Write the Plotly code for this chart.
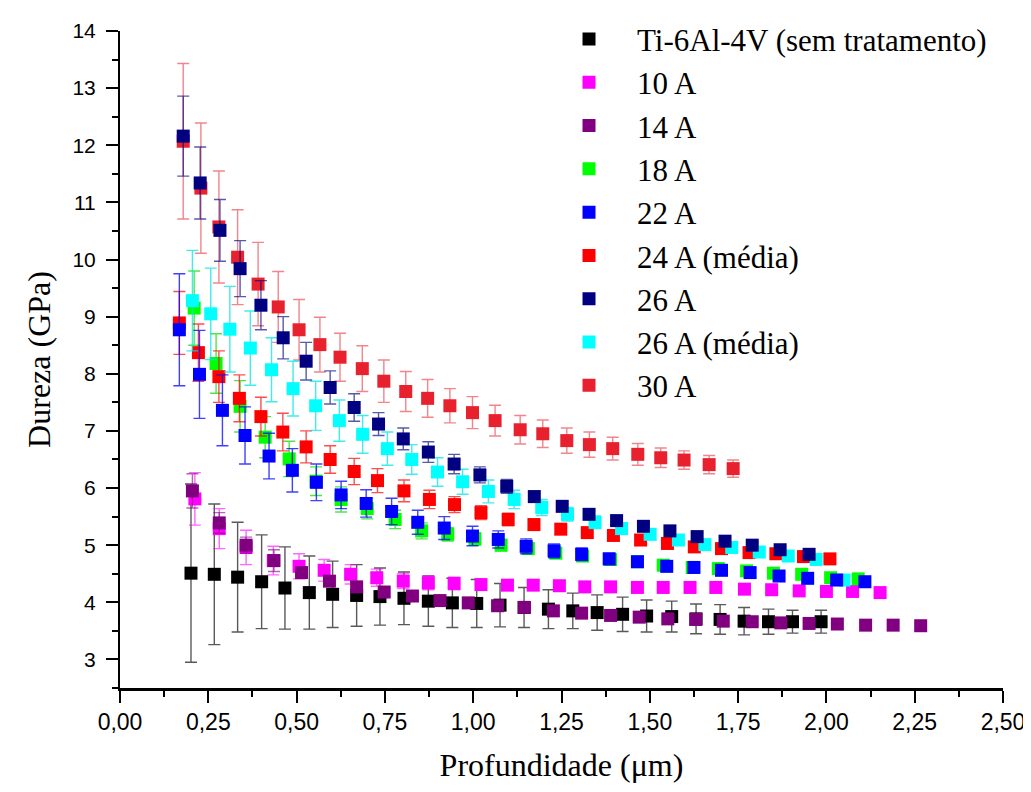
import plotly.graph_objects as go

# ---- data ----
ti_x = [0.201,0.267,0.333,0.401,0.467,0.536,0.602,0.670,0.736,0.804,0.873,0.941,1.010,1.076,1.144,1.213,1.282,1.351,1.423,1.491,1.562,1.631,1.699,1.767,1.836,1.904,1.985]
ti_y = [4.51,4.49,4.44,4.36,4.25,4.17,4.14,4.12,4.10,4.07,4.02,3.99,3.98,3.95,3.91,3.88,3.85,3.82,3.79,3.76,3.75,3.71,3.70,3.67,3.66,3.66,3.66]
ti_e = [1.56,1.23,0.96,0.82,0.72,0.64,0.58,0.54,0.50,0.46,0.44,0.43,0.42,0.38,0.35,0.34,0.31,0.31,0.30,0.28,0.27,0.26,0.26,0.24,0.22,0.20,0.20]

a10_x = [0.212,0.281,0.357,0.434,0.507,0.578,0.653,0.727,0.802,0.873,0.946,1.022,1.097,1.170,1.244,1.316,1.389,1.465,1.538,1.614,1.687,1.768,1.845,1.923,2.000,2.074,2.152]
a10_y = [5.81,5.29,4.96,4.73,4.63,4.56,4.49,4.43,4.37,4.34,4.33,4.31,4.30,4.30,4.29,4.27,4.27,4.26,4.26,4.26,4.26,4.23,4.22,4.20,4.19,4.19,4.17]
a10_e = [0.46,0.35,0.30,0.25,0.22,0.19,0.17,0.15,0.13,0.12,0.11,0.10,0.09,0.08,0.08,0.07,0.07,0.06,0.06,0.06,0.05,0.05,0.05,0.05,0.04,0.04,0.04]

a14_x = [0.205,0.281,0.357,0.436,0.514,0.593,0.670,0.748,0.828,0.906,0.986,1.069,1.145,1.227,1.307,1.389,1.470,1.551,1.630,1.708,1.790,1.871,1.951,2.031,2.111,2.189,2.267]
a14_y = [5.95,5.39,5.00,4.73,4.52,4.37,4.27,4.18,4.11,4.03,3.99,3.94,3.91,3.85,3.81,3.77,3.74,3.71,3.70,3.67,3.66,3.64,3.63,3.62,3.60,3.60,3.59]
a14_e = [0.30,0.18,0.14,0.19,0.10,0.09,0.08,0.07,0.06,0.06,0.05,0.05,0.05,0.05,0.04,0.04,0.04,0.04,0.04,0.04,0.04,0.04,0.04,0.04,0.04,0.04,0.04]

a18_x = [0.210,0.272,0.340,0.411,0.479,0.555,0.626,0.700,0.779,0.854,0.928,1.005,1.079,1.156,1.234,1.310,1.389,1.465,1.538,1.620,1.694,1.774,1.850,1.930,2.012,2.090]
a18_y = [9.15,8.18,7.43,6.89,6.51,6.12,5.80,5.64,5.45,5.25,5.19,5.11,5.00,4.94,4.86,4.81,4.75,4.71,4.65,4.61,4.59,4.55,4.51,4.49,4.43,4.41]
a18_e = [0.65,0.52,0.45,0.36,0.31,0.25,0.22,0.18,0.16,0.14,0.12,0.11,0.10,0.09,0.08,0.08,0.07,0.07,0.06,0.06,0.06,0.05,0.05,0.05,0.05,0.05]

a22_x = [0.168,0.225,0.290,0.354,0.422,0.488,0.556,0.626,0.697,0.769,0.843,0.918,0.998,1.071,1.150,1.229,1.307,1.385,1.465,1.548,1.625,1.703,1.784,1.866,1.947,2.029,2.109]
a22_y = [8.77,7.99,7.36,6.92,6.56,6.31,6.10,5.88,5.73,5.59,5.40,5.30,5.16,5.10,4.98,4.90,4.84,4.76,4.71,4.63,4.61,4.56,4.52,4.46,4.42,4.39,4.36]
a22_e = [0.98,0.77,0.62,0.50,0.40,0.38,0.32,0.24,0.24,0.23,0.21,0.20,0.17,0.15,0.13,0.12,0.11,0.10,0.09,0.09,0.08,0.08,0.07,0.07,0.06,0.06,0.06]

a24_x = [0.168,0.222,0.280,0.338,0.399,0.461,0.527,0.595,0.663,0.729,0.804,0.876,0.947,1.022,1.099,1.172,1.248,1.323,1.397,1.474,1.550,1.626,1.703,1.781,1.857,1.935,2.010]
a24_y = [8.89,8.37,7.95,7.57,7.25,6.98,6.72,6.50,6.29,6.13,5.95,5.80,5.71,5.57,5.45,5.36,5.28,5.22,5.17,5.09,5.03,4.97,4.94,4.87,4.85,4.80,4.76]
a24_e = [0.55,0.50,0.45,0.41,0.34,0.33,0.28,0.24,0.23,0.21,0.19,0.16,0.14,0.12,0.11,0.10,0.09,0.08,0.08,0.07,0.07,0.06,0.06,0.06,0.05,0.05,0.05]

a26_x = [0.179,0.227,0.283,0.340,0.399,0.462,0.527,0.595,0.663,0.732,0.802,0.873,0.946,1.019,1.095,1.173,1.252,1.328,1.406,1.482,1.557,1.634,1.713,1.790,1.869,1.951]
a26_y = [12.16,11.34,10.51,9.84,9.20,8.63,8.22,7.76,7.41,7.12,6.86,6.63,6.42,6.23,6.03,5.85,5.68,5.54,5.43,5.33,5.25,5.15,5.07,5.00,4.92,4.84]
a26_e = [0.70,0.63,0.54,0.49,0.43,0.37,0.33,0.29,0.24,0.20,0.19,0.18,0.17,0.14,0.12,0.10,0.09,0.08,0.07,0.07,0.06,0.06,0.05,0.05,0.05,0.05]

a26m_x = [0.205,0.257,0.311,0.369,0.429,0.490,0.554,0.621,0.687,0.757,0.826,0.899,0.970,1.043,1.116,1.194,1.267,1.345,1.420,1.501,1.581,1.656,1.732,1.810,1.892,1.971,2.050]
a26m_y = [9.28,9.05,8.78,8.45,8.07,7.74,7.44,7.18,6.94,6.69,6.50,6.28,6.11,5.94,5.80,5.66,5.54,5.40,5.29,5.19,5.09,5.01,4.96,4.88,4.81,4.75,4.39]
a26m_e = [0.88,0.80,0.75,0.65,0.56,0.48,0.43,0.36,0.33,0.29,0.26,0.25,0.22,0.20,0.16,0.14,0.12,0.11,0.10,0.09,0.08,0.07,0.07,0.06,0.06,0.05,0.05]

a30_x = [0.179,0.229,0.280,0.333,0.391,0.448,0.507,0.566,0.623,0.686,0.747,0.809,0.871,0.934,0.998,1.062,1.133,1.197,1.265,1.329,1.395,1.466,1.531,1.597,1.668,1.736]
a30_y = [12.07,11.25,10.57,10.04,9.57,9.17,8.77,8.51,8.29,8.09,7.87,7.69,7.57,7.44,7.32,7.18,7.02,6.95,6.83,6.76,6.69,6.59,6.53,6.49,6.41,6.34]
a30_e = [1.36,1.14,0.98,0.83,0.73,0.62,0.53,0.48,0.42,0.40,0.37,0.35,0.33,0.30,0.28,0.27,0.25,0.24,0.22,0.22,0.20,0.19,0.17,0.16,0.16,0.15]

x_ticks = [0, 0.25, 0.5, 0.75, 1.0, 1.25, 1.5, 1.75, 2.0, 2.25, 2.5]
x_labels = ["0,00", "0,25", "0,50", "0,75", "1,00", "1,25", "1,50", "1,75", "2,00", "2,25", "2,50"]
y_ticks = [3, 4, 5, 6, 7, 8, 9, 10, 11, 12, 13, 14]

# (name, x, y, err, color, error colour, legend rank) in drawing order
series = [
    ("Ti-6Al-4V (sem tratamento)", ti_x, ti_y, ti_e, "#000000", "rgba(0,0,0,0.65)", 1),
    ("10 A", a10_x, a10_y, a10_e, "#FF00FF", "rgba(255,0,255,0.6)", 2),
    ("14 A", a14_x, a14_y, a14_e, "#800080", "rgba(128,0,128,0.6)", 3),
    ("18 A", a18_x, a18_y, a18_e, "#00FF00", "rgba(0,220,0,0.7)", 4),
    ("24 A (média)", a24_x, a24_y, a24_e, "#FF0000", "rgba(255,0,0,0.7)", 6),
    ("30 A", a30_x, a30_y, a30_e, "#E8212E", "rgba(232,33,46,0.55)", 9),
    ("26 A (média)", a26m_x, a26m_y, a26m_e, "#00FFFF", "rgba(0,230,230,0.75)", 8),
    ("22 A", a22_x, a22_y, a22_e, "#0000FF", "rgba(0,0,255,0.75)", 5),
    ("26 A", a26_x, a26_y, a26_e, "#000080", "rgba(0,0,128,0.65)", 7),
]

fig = go.Figure()
for name, xs, ys, es, col, ecol, rank in series:
    fig.add_trace(go.Scatter(
        x=xs, y=ys, name=name, mode="markers", legendrank=rank,
        marker=dict(symbol="square", size=13, color=col, line=dict(width=0)),
        error_y=dict(type="data", array=es, visible=True, color=ecol, thickness=1.4, width=6),
    ))

serif = "Liberation Serif, Times New Roman, serif"
sans = "Liberation Sans, Arial, sans-serif"

# the page body adds an 8 px offset, so the figure is 8 px smaller on each axis
fig.update_layout(
    width=1023, height=784,
    margin=dict(l=112, r=28, t=0, b=104, autoexpand=False),
    paper_bgcolor="white", plot_bgcolor="white",
    showlegend=True,
    legend=dict(x=0.4768, y=0.9937, xanchor="left", yanchor="top",
                font=dict(family=serif, size=31, color="black"),
                bgcolor="rgba(0,0,0,0)", itemwidth=86, tracegroupgap=0),
    xaxis=dict(range=[0, 2.5], tickmode="array", tickvals=x_ticks, ticktext=x_labels,
               ticks="outside", ticklen=12, tickwidth=2, tickcolor="black",
               showline=True, linecolor="black", linewidth=2.5,
               showgrid=False, zeroline=False, automargin=False,
               minor=dict(ticks="outside", ticklen=6, tickwidth=2, tickcolor="black", dtick=0.125, tick0=0, showgrid=False),
               tickfont=dict(family=sans, size=23, color="black"),
               title=dict(text="Profundidade (μm)", font=dict(family=serif, size=32, color="black"), standoff=20)),
    yaxis=dict(range=[2.5, 14], domain=[0, 0.9662], tickmode="array", tickvals=y_ticks,
               ticks="outside", ticklen=12, tickwidth=2, tickcolor="black",
               showline=True, linecolor="black", linewidth=2,
               showgrid=False, zeroline=False, automargin=False, ticklabelstandoff=6,
               minor=dict(ticks="outside", ticklen=6, tickwidth=2, tickcolor="black", dtick=0.5, tick0=0, showgrid=False),
               tickfont=dict(family=sans, size=21, color="black"),
               title=dict(text="Dureza (GPa)", font=dict(family=serif, size=32, color="black"), standoff=12)),
)

fig.write_html("out.html")
